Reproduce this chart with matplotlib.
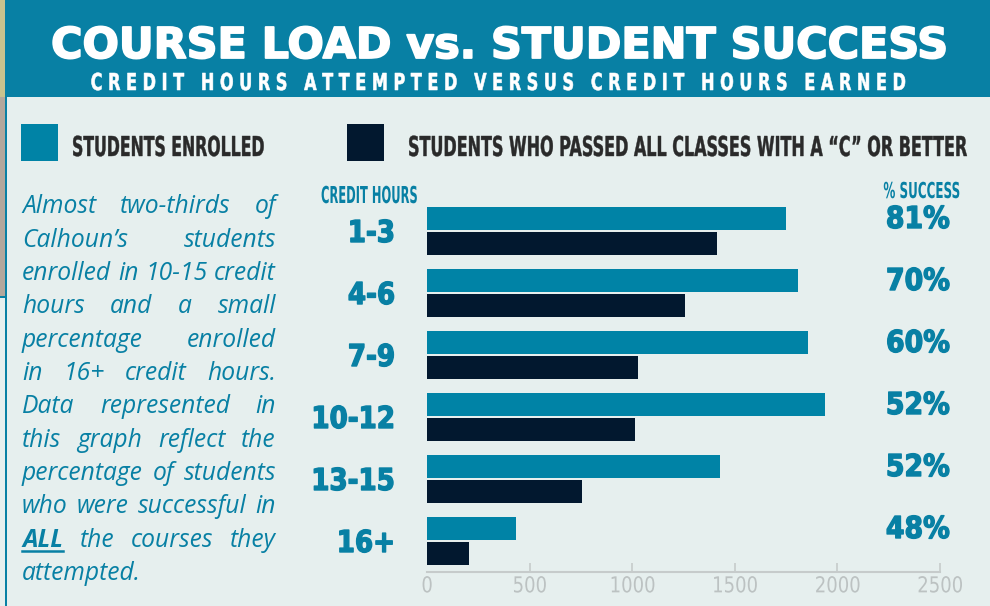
import numpy as np
import matplotlib
matplotlib.use("Agg")
import matplotlib.pyplot as plt
from matplotlib.patches import Rectangle
from matplotlib.lines import Line2D
from matplotlib.transforms import Affine2D, blended_transform_factory
from matplotlib.patheffects import AbstractPathEffect

# ---------------- data ----------------
categories = ["1-3", "4-6", "7-9", "10-12", "13-15", "16+"]
enrolled = [1750, 1808, 1857, 1941, 1427, 435]
passed = [1412, 1257, 1027, 1012, 753, 205]
success_pct = [81, 70, 60, 52, 52, 48]
x_ticks = [0, 500, 1000, 1500, 2000, 2500]

title = "COURSE LOAD vs. STUDENT SUCCESS"
subtitle = "CREDIT HOURS ATTEMPTED VERSUS CREDIT HOURS EARNED"
legend_labels = ["STUDENTS ENROLLED",
                 "STUDENTS WHO PASSED ALL CLASSES WITH A \u201cC\u201d OR BETTER"]
left_header = "CREDIT HOURS"
right_header = "% SUCCESS"
para_lines = [
    "Almost two-thirds of",
    "Calhoun\u2019s students",
    "enrolled in 10-15 credit",
    "hours and a small",
    "percentage enrolled",
    "in 16+ credit hours.",
    "Data represented in",
    "this graph reflect the",
    "percentage of students",
    "who were successful in",
    "ALL the courses they",
    "attempted.",
]

# ---------------- style ----------------
TEAL = "#0880A4"
BAR_TEAL = "#0083A6"
NAVY = "#02182F"
BG = "#E6EFEE"
DARK_TXT = "#2A2A2A"
AXIS_GREY = "#C6CBCB"
TICK_TXT = "#BCC2C2"
HEAD_FONT = "DejaVu Sans"
CAP = 0.729  # cap-height ratio for DejaVu Sans

W, H = 990, 606
fig = plt.figure(figsize=(W / 100, H / 100), dpi=100, facecolor=BG)
PX = Affine2D().scale(1 / W, -1 / H).translate(0, 1) + fig.transFigure
renderer = fig.canvas.get_renderer()


class Stretch(AbstractPathEffect):
    """Vertically stretch glyphs about the text anchor (condensed look),
    optionally thickening them with a same-colour stroke."""
    def __init__(self, sy, lw=0.0):
        super().__init__()
        self.sy = sy
        self.lw = lw
        self.text = None

    def draw_path(self, renderer, gc, tpath, affine, rgbFace=None):
        t = self.text
        _, y = t.get_transform().transform(t.get_unitless_position())
        aff = affine + Affine2D().translate(0, -y).scale(1, self.sy).translate(0, y)
        if self.lw > 0 and rgbFace is not None:
            gc0 = renderer.new_gc()
            gc0.copy_properties(gc)
            gc0.set_linewidth(self.lw)
            gc0.set_foreground(rgbFace)
            gc0.set_joinstyle("round")
            renderer.draw_path(gc0, tpath, aff, rgbFace)
            gc0.restore()
        else:
            renderer.draw_path(gc, tpath, aff, rgbFace)


def fit_text(x, y, s, cap, width=None, size=None, ha="left", color="k",
             trans=None, weight="bold", family=HEAD_FONT, lw=0.0):
    t = fig.text(x, y, s, transform=trans if trans is not None else PX,
                 ha=ha, va="baseline", fontsize=10, color=color,
                 fontweight=weight, family=family)
    if size is None:
        w = t.get_window_extent(renderer).width
        size = 10 * width / w
    t.set_fontsize(size)
    natural_cap = CAP * size * 100 / 72
    eff = Stretch(cap / natural_cap, lw)
    eff.text = t
    t.set_path_effects([eff])
    return t, size


def rect(x0, y0, x1, y1, color, z=1):
    fig.add_artist(Rectangle((x0, y0), x1 - x0, y1 - y0, transform=PX,
                             facecolor=color, edgecolor="none", zorder=z))


# ---------------- decorations ----------------
rect(0, 0, 6, 97, "#C9C38E")
rect(0, 97, 5, 297, "#B3A79C")
rect(0, 295.5, 6, 298, TEAL)
rect(5, 0, W, 97, TEAL)
rect(4.5, 97, 7, H, TEAL)

fit_text(499.5, 58, title, cap=31, width=899, ha="center", color="white", lw=1.3)
spaced = "   ".join(" ".join(word) for word in subtitle.split(" "))
fit_text(498.5, 90, spaced, cap=17, width=819, ha="center", color="white", lw=0.4)

# legend
rect(21, 124, 58, 161, BAR_TEAL)
rect(347, 124, 384, 161, NAVY)
fit_text(72, 156, legend_labels[0], cap=20, width=193, color=DARK_TXT, lw=0.3)
fit_text(408, 156, legend_labels[1], cap=20, width=561, color=DARK_TXT, lw=0.3)

# headers
fit_text(321, 203, left_header, cap=17, width=97, color=TEAL)
fit_text(960, 198, right_header, cap=16, width=77, ha="right", color=TEAL)

# ---------------- chart ----------------
ax_left, ax_right, ax_top, ax_bot = 427, 940, 200, 572
ax = fig.add_axes([ax_left / W, 1 - ax_bot / H, (ax_right - ax_left) / W,
                   (ax_bot - ax_top) / H])
ax.set_facecolor("none")
y = np.arange(len(categories))
bar_h = 0.37
off = 0.2
ax.barh(y - off, enrolled, height=bar_h, color=BAR_TEAL, linewidth=0)
ax.barh(y + off, passed, height=bar_h, color=NAVY, linewidth=0)
ax.set_xlim(0, 2500)
ax.set_ylim(len(categories) - 0.5, -0.5)
ax.set_yticks([])
for side in ("left", "top", "right"):
    ax.spines[side].set_visible(False)
ax.spines["bottom"].set_color(AXIS_GREY)
ax.spines["bottom"].set_linewidth(1.5)
ax.set_xticks(x_ticks)
ax.set_xticklabels([str(v) for v in x_ticks])
tick_size = 13
ax.tick_params(axis="x", direction="in", length=6.5, width=1.2,
               color=AXIS_GREY, labelcolor=TICK_TXT, labelsize=tick_size, pad=2.4)
ax.xaxis.get_major_ticks()[0].tick1line.set_visible(False)
for lab in ax.get_xticklabels():
    eff = Stretch(16 / (CAP * tick_size * 100 / 72))
    eff.text = lab
    lab.set_path_effects([eff])

lab_trans = blended_transform_factory(PX, ax.transData)
px_per_unit = (ax_bot - ax_top) / len(categories)
_, cat_size = fit_text(-1000, 0, "10-12", cap=22, width=84, trans=lab_trans)
fig.texts[-1].remove()
_, pct_size = fit_text(-1000, 0, "70%", cap=22, width=64, trans=lab_trans)
fig.texts[-1].remove()
for i, (cat, pct) in enumerate(zip(categories, success_pct)):
    fit_text(395, i + 11 / px_per_unit, cat, cap=22, size=cat_size, ha="right",
             color=TEAL, trans=lab_trans, lw=1.0)
    fit_text(950, i - 3 / px_per_unit, f"{pct}%", cap=22, size=pct_size,
             ha="right", color=TEAL, trans=lab_trans, lw=1.0)

# ---------------- paragraph (justified) ----------------
PARA_FONT = "Open Sans"
PARA_L, PARA_R = 22, 276
base0, step = 213.3, 33.35


def measure(s, size, weight="normal"):
    t = fig.text(0, 0, s, fontsize=size, family=PARA_FONT, style="italic",
                 fontweight=weight)
    w = t.get_window_extent(renderer).width
    t.remove()
    return w


maxw = max(measure(l, 10) for l in para_lines[:-1])
psize = 10 * 252 / maxw
space_w = measure("a a", psize) - measure("aa", psize)
for k, line in enumerate(para_lines):
    words = line.split(" ")
    weights = ["bold" if wd == "ALL" else "normal" for wd in words]
    widths = [measure(wd, psize, wt) for wd, wt in zip(words, weights)]
    if k == len(para_lines) - 1 or len(words) == 1:
        gap = space_w
    else:
        gap = (PARA_R - PARA_L - sum(widths)) / (len(words) - 1)
    xx = PARA_L
    yb = base0 + step * k
    for wd, wt, ww in zip(words, weights, widths):
        fig.text(xx, yb, wd, transform=PX, ha="left", va="baseline",
                 fontsize=psize, family=PARA_FONT, style="italic",
                 fontweight=wt, color=TEAL)
        if wd == "ALL":
            fig.add_artist(Line2D([xx, xx + ww], [yb + 4, yb + 4], transform=PX,
                                  color=TEAL, linewidth=1.8))
        xx += ww + gap

fig.savefig("out.png", dpi=100, facecolor=BG)
